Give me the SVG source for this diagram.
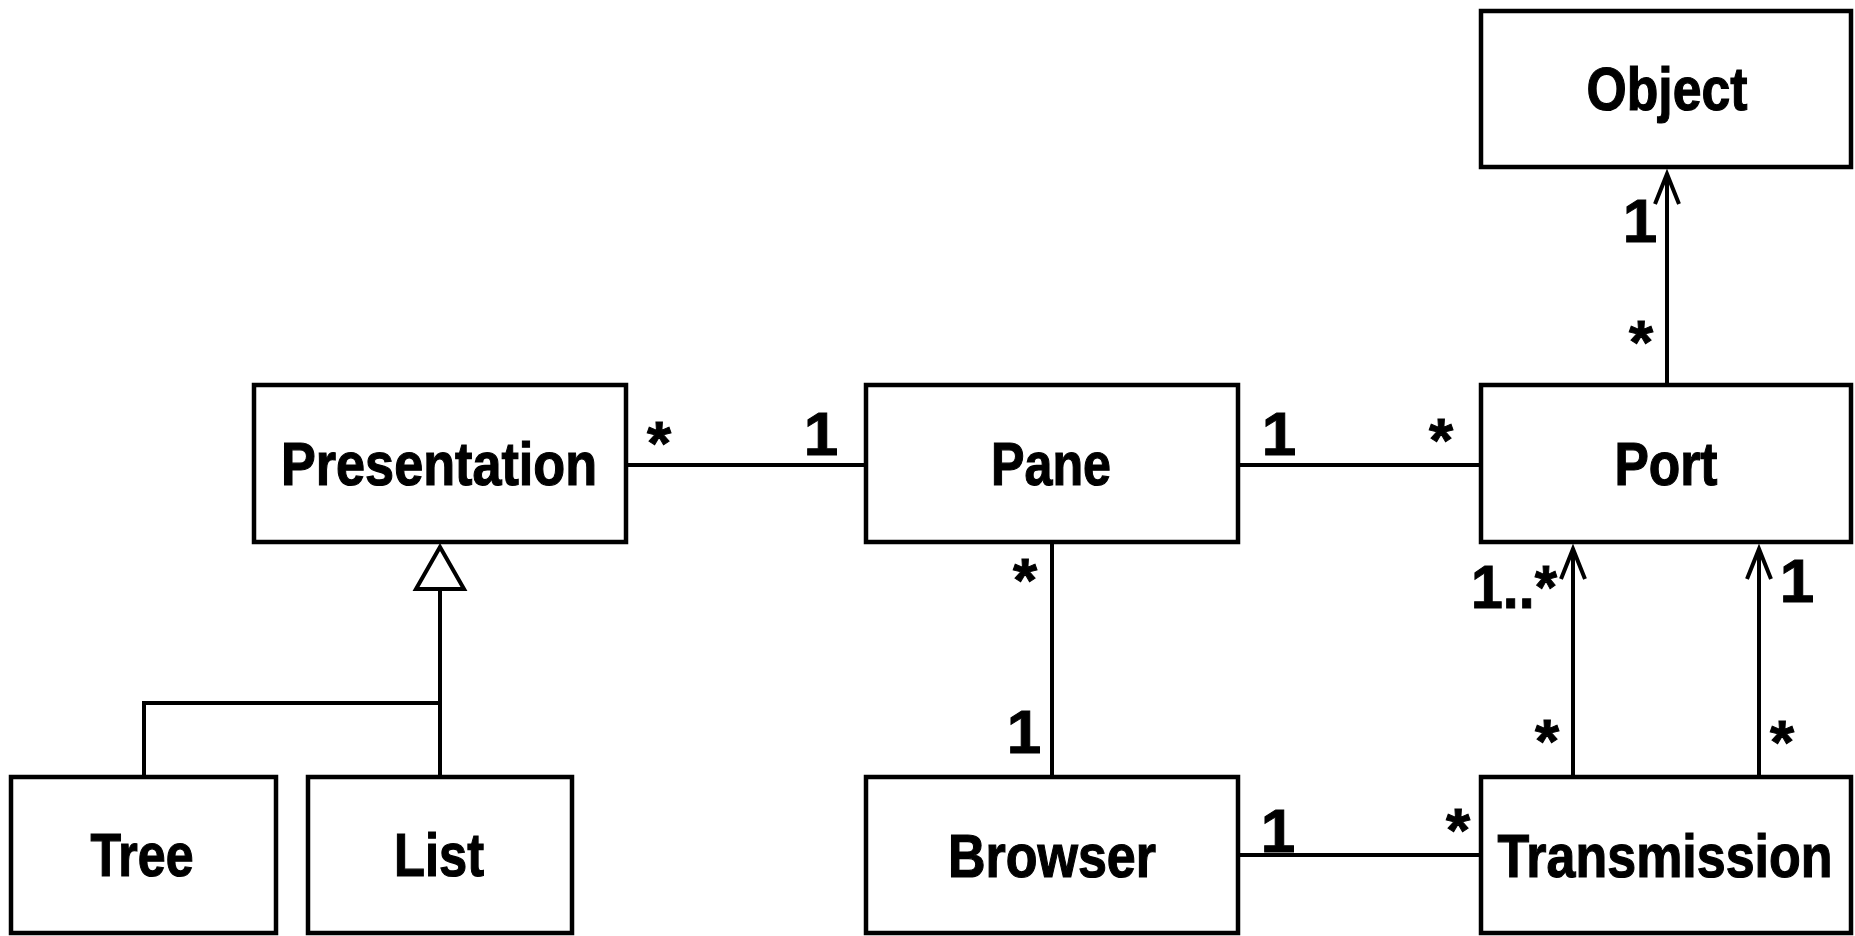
<svg xmlns="http://www.w3.org/2000/svg" width="1855" height="936" viewBox="0 0 1855 936">
  <style>
    .box { fill: #fff; stroke: #000; stroke-width: 4.5; }
    .name { font-family: "Liberation Sans", Arial, sans-serif; font-weight: bold; font-size: 62px; fill: #000; stroke: #000; stroke-width: 1.2; text-anchor: middle; }
    .mult { font-family: "Liberation Sans", Arial, sans-serif; font-weight: bold; font-size: 62px; fill: #000; stroke: #000; stroke-width: 1; text-anchor: middle; }
    .edge { fill: none; stroke: #000; stroke-width: 4; }
  </style>
  <defs>
    <marker id="open-arrow" markerUnits="userSpaceOnUse" markerWidth="40" markerHeight="30" viewBox="0 0 40 30" refX="32" refY="15" orient="auto">
      <path d="M2,3 L32,15 L2,27" fill="none" stroke="#000" stroke-width="4"/>
    </marker>
  </defs>
  <rect width="1855" height="936" fill="#fff"/>

  <g id="connectors">
    <!-- associations -->
    <line class="edge" x1="626" y1="465" x2="866" y2="465"/>
    <line class="edge" x1="1238" y1="465" x2="1481" y2="465"/>
    <line class="edge" x1="1052" y1="542" x2="1052" y2="777"/>
    <line class="edge" x1="1238" y1="855" x2="1481" y2="855"/>
    <!-- navigable associations -->
    <line class="edge" x1="1667" y1="385" x2="1667" y2="174" marker-end="url(#open-arrow)"/>
    <line class="edge" x1="1573" y1="777" x2="1573" y2="549" marker-end="url(#open-arrow)"/>
    <line class="edge" x1="1759" y1="777" x2="1759" y2="549" marker-end="url(#open-arrow)"/>
    <!-- generalization -->
    <path class="edge" d="M144,777 V703 H440"/>
    <path class="edge" d="M440,777 V589"/>
    <polygon points="440,547 416,589 464,589" fill="#fff" stroke="#000" stroke-width="4" stroke-linejoin="miter"/>
    <!-- multiplicities -->
    <text class="mult" x="1640" y="242">1</text>
    <text class="mult" x="1641" y="363">*</text>
    <text class="mult" x="659" y="464">*</text>
    <text class="mult" x="821" y="455">1</text>
    <text class="mult" x="1279" y="455">1</text>
    <text class="mult" x="1441" y="461">*</text>
    <text class="mult" x="1025" y="601">*</text>
    <text class="mult" x="1024" y="753">1</text>
    <text class="mult" x="1278" y="852">1</text>
    <text class="mult" x="1458" y="851">*</text>
    <text class="mult" x="1514" y="608" textLength="86" lengthAdjust="spacingAndGlyphs">1..*</text>
    <text class="mult" x="1547" y="762">*</text>
    <text class="mult" x="1797" y="602">1</text>
    <text class="mult" x="1782" y="763">*</text>
  </g>

  <g id="object">
    <rect class="box" x="1481" y="11" width="370" height="156"/>
    <text class="name" x="1667" y="110" textLength="161" lengthAdjust="spacingAndGlyphs">Object</text>
  </g>
  <g id="presentation">
    <rect class="box" x="254" y="385" width="372" height="157"/>
    <text class="name" x="439" y="485" textLength="316" lengthAdjust="spacingAndGlyphs">Presentation</text>
  </g>
  <g id="pane">
    <rect class="box" x="866" y="385" width="372" height="157"/>
    <text class="name" x="1051" y="485" textLength="120" lengthAdjust="spacingAndGlyphs">Pane</text>
  </g>
  <g id="port">
    <rect class="box" x="1481" y="385" width="370" height="157"/>
    <text class="name" x="1666" y="485" textLength="103" lengthAdjust="spacingAndGlyphs">Port</text>
  </g>
  <g id="tree">
    <rect class="box" x="11" y="777" width="265" height="156"/>
    <text class="name" x="142" y="876" textLength="103" lengthAdjust="spacingAndGlyphs">Tree</text>
  </g>
  <g id="list">
    <rect class="box" x="308" y="777" width="264" height="156"/>
    <text class="name" x="439" y="876" textLength="90" lengthAdjust="spacingAndGlyphs">List</text>
  </g>
  <g id="browser">
    <rect class="box" x="866" y="777" width="372" height="156"/>
    <text class="name" x="1052" y="877" textLength="208" lengthAdjust="spacingAndGlyphs">Browser</text>
  </g>
  <g id="transmission">
    <rect class="box" x="1481" y="777" width="370" height="156"/>
    <text class="name" x="1665" y="877" textLength="335" lengthAdjust="spacingAndGlyphs">Transmission</text>
  </g>
</svg>
